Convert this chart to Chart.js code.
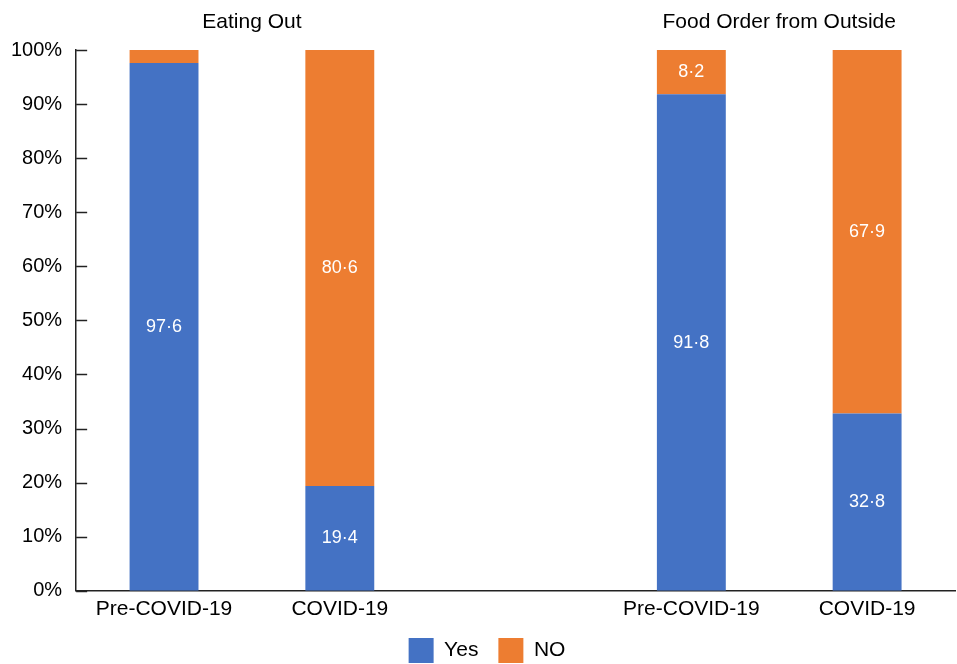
<!DOCTYPE html>
<html>
<head>
<meta charset="utf-8">
<script src="https://cdn.jsdelivr.net/npm/chart.js@4/dist/chart.umd.min.js"></script>
<style>
  html, body { margin: 0; padding: 0; background: #fff; }
  #wrap { width: 957px; height: 664px; }
</style>
</head>
<body>
<div id="wrap"><canvas id="c"></canvas></div>
<script>
// Categories (an empty slot separates the two groups)
const categories = ['Pre-COVID-19', 'COVID-19', '', 'Pre-COVID-19', 'COVID-19'];
const groupTitles = ['Eating Out', 'Food Order from Outside'];
const groupSpans = [[0, 1], [3, 4]];

// Percentages of respondents
const yesValues = [97.6, 19.4, null, 91.8, 32.8];
const noValues  = [2.4, 80.6, null, 8.2, 67.9];

const yTicks = [0, 10, 20, 30, 40, 50, 60, 70, 80, 90, 100];

const FONT = "'Liberation Sans', Arial, Helvetica, sans-serif";

// Group headings centred over each pair of bars
const groupTitlePlugin = {
  id: 'groupTitles',
  afterDraw(chart) {
    const ctx = chart.ctx;
    const x = chart.scales.x;
    ctx.save();
    ctx.fillStyle = '#000';
    ctx.font = '21px ' + FONT;
    ctx.textAlign = 'center';
    ctx.textBaseline = 'middle';
    groupSpans.forEach((span, i) => {
      const cx = (x.getPixelForValue(span[0]) + x.getPixelForValue(span[1])) / 2;
      ctx.fillText(groupTitles[i], cx, 22);
    });
    ctx.restore();
  }
};

// Inward tick marks on the value axis
const innerTicksPlugin = {
  id: 'innerTicks',
  afterDraw(chart) {
    const ctx = chart.ctx;
    const y = chart.scales.y;
    const left = chart.chartArea.left;
    ctx.save();
    ctx.strokeStyle = '#222';
    ctx.lineWidth = 1.5;
    yTicks.forEach(v => {
      const py = Math.round(y.getPixelForValue(v)) + 0.5;
      ctx.beginPath();
      ctx.moveTo(left, py);
      ctx.lineTo(left + 11, py);
      ctx.stroke();
    });
    ctx.restore();
  }
};

// Nudge the legend so it sits a little right of the canvas centre
const legendShiftPlugin = {
  id: 'legendShift',
  afterUpdate(chart) {
    const lg = chart.legend;
    if (!lg) return;
    lg.left += 11;
    lg.right += 11;
  }
};

// Values written inside each segment
const valueLabelPlugin = {
  id: 'valueLabels',
  afterDatasetsDraw(chart) {
    const ctx = chart.ctx;
    ctx.save();
    ctx.fillStyle = '#fff';
    ctx.font = '18px ' + FONT;
    ctx.textAlign = 'center';
    ctx.textBaseline = 'middle';
    chart.data.datasets.forEach((ds, di) => {
      const meta = chart.getDatasetMeta(di);
      meta.data.forEach((bar, i) => {
        const v = ds.data[i];
        if (v == null || v < 5) return;
        const top = Math.max(bar.y, chart.chartArea.top);
        const cy = (top + bar.base) / 2;
        ctx.fillText(v.toFixed(1).replace('.', '\u00B7'), bar.x, cy);
      });
    });
    ctx.restore();
  }
};

new Chart(document.getElementById('c'), {
  type: 'bar',
  data: {
    labels: categories,
    datasets: [
      { label: 'Yes', data: yesValues, backgroundColor: '#4472C4' },
      { label: 'NO',  data: noValues,  backgroundColor: '#ED7D31' }
    ]
  },
  options: {
    responsive: true,
    maintainAspectRatio: false,
    animation: false,
    layout: { padding: { top: 50, right: 2, left: -3, bottom: -9 } },
    datasets: { bar: { categoryPercentage: 1, barPercentage: 0.392 } },
    scales: {
      x: {
        stacked: true,
        grid: { display: false, drawTicks: false },
        border: { display: true, color: '#222', width: 1.5 },
        ticks: { color: '#000', font: { family: FONT, size: 21 }, padding: 6, maxRotation: 0, autoSkip: false },
        afterFit(scale) { scale.height -= 10; }
      },
      y: {
        stacked: true,
        min: 0,
        max: 100,
        afterBuildTicks(axis) { axis.ticks = yTicks.map(v => ({ value: v })); },
        grid: { display: false, drawTicks: false },
        border: { display: true, color: '#222', width: 1.5 },
        ticks: { color: '#000', font: { family: FONT, size: 20 }, padding: 14, callback: v => v + '%' }
      }
    },
    plugins: {
      legend: {
        position: 'bottom',
        labels: { color: '#000', font: { family: FONT, size: 21 }, boxWidth: 25, boxHeight: 25, padding: 20 }
      },
      tooltip: { enabled: false }
    }
  },
  plugins: [groupTitlePlugin, innerTicksPlugin, legendShiftPlugin, valueLabelPlugin]
});
</script>
</body>
</html>
